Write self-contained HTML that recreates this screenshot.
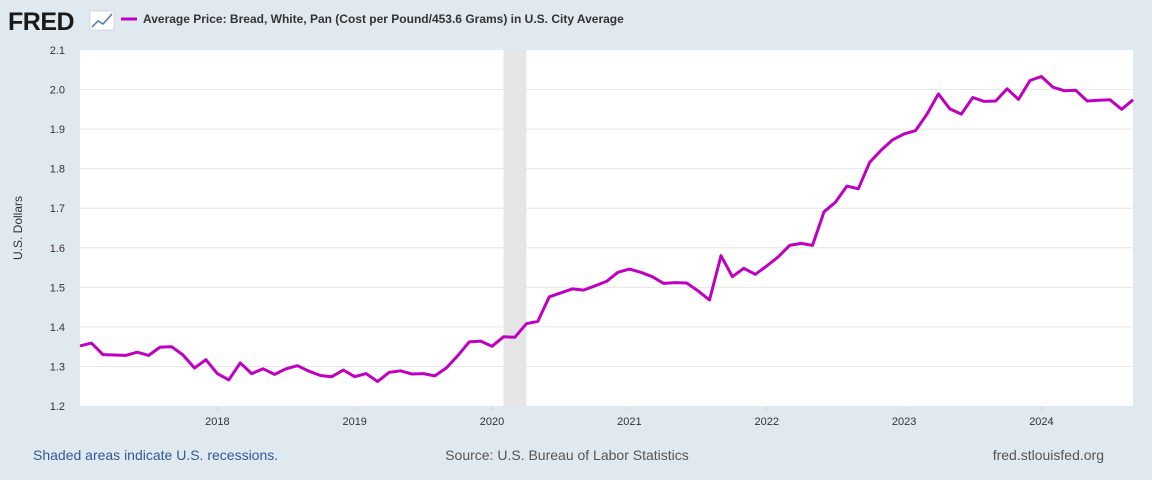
<!DOCTYPE html>
<html><head><meta charset="utf-8"><style>
body{margin:0;width:1152px;height:480px;background:#e1e9f0;font-family:"Liberation Sans",Arial,sans-serif;overflow:hidden}
svg{position:absolute;left:0;top:0}
</style></head><body>
<svg id="c" width="1152" height="480">
<g>
<text x="8" y="30" font-size="25" font-weight="bold" fill="#1a1a1a" letter-spacing="-0.5">FRED</text>
<rect x="90" y="11" width="24" height="19" fill="#fff" stroke="#bbb" stroke-width="0.5"/>
<polyline points="92,27 98,21 103,24 112,14" fill="none" stroke="#4a7ab8" stroke-width="1.5"/>
</g>
<line x1="121" y1="19" x2="137" y2="19" stroke="#c000c0" stroke-width="3"/>
<text x="143" y="23" font-size="12" font-weight="bold" fill="#333">Average Price: Bread, White, Pan (Cost per Pound/453.6 Grams) in U.S. City Average</text>
<rect x="80" y="50" width="1053" height="356" fill="#fff"/>
<g id="grid"></g>
<g id="rec"></g>
<g id="yt"></g><g id="xt"></g>
<path id="ln" fill="none" stroke="#c000c0" stroke-width="3" stroke-linejoin="round"/>
<text transform="translate(22,228) rotate(-90)" text-anchor="middle" font-size="12" fill="#333">U.S. Dollars</text>
<text x="33" y="460" font-size="14" fill="#2f5a97">Shaded areas indicate U.S. recessions.</text>
<text x="567" y="460" text-anchor="middle" font-size="14" fill="#555">Source: U.S. Bureau of Labor Statistics</text>
<text x="1104" y="460" text-anchor="end" font-size="14" fill="#555">fred.stlouisfed.org</text>
</svg>
<script>
const yTicks=[1.2,1.3,1.4,1.5,1.6,1.7,1.8,1.9,2.0,2.1];
const yTickLabels=["1.2","1.3","1.4","1.5","1.6","1.7","1.8","1.9","2.0","2.1"];
const xTickYears=[2018,2019,2020,2021,2022,2023,2024];
const startYear=2017;
const recessionStart=2020+1/12, recessionEnd=2020+3/12;
const prices=[
1.352,1.359,1.330,1.329,1.328,1.336,1.328,1.349,1.350,1.329,1.296,1.317,
1.282,1.266,1.309,1.282,1.294,1.280,1.294,1.302,1.288,1.277,1.274,1.291,
1.274,1.282,1.262,1.285,1.289,1.281,1.282,1.276,1.296,1.327,1.362,1.364,
1.351,1.375,1.374,1.408,1.414,1.476,1.486,1.496,1.493,1.504,1.515,1.538,
1.546,1.538,1.527,1.510,1.512,1.511,1.491,1.468,1.580,1.527,1.548,1.533,
1.554,1.577,1.606,1.611,1.606,1.691,1.715,1.756,1.749,1.816,1.847,1.873,
1.888,1.896,1.938,1.989,1.951,1.938,1.980,1.970,1.971,2.002,1.975,2.023,
2.033,2.006,1.997,1.998,1.971,1.973,1.974,1.950,1.974];
const NS="http://www.w3.org/2000/svg";
const X0=80,X1=1133,Y0=406,Y1=50;
const tMax=startYear+(prices.length-1)/12;
const xs=t=>X0+(t-startYear)/(tMax-startYear)*(X1-X0);
const ys=v=>Y0-(v-1.2)/(0.9)*(Y0-Y1);
function mk(tag,a,p){const e=document.createElementNS(NS,tag);for(const k in a)e.setAttribute(k,a[k]);p.appendChild(e);return e;}
const grid=document.getElementById('grid'),yt=document.getElementById('yt'),xt=document.getElementById('xt');
yTicks.forEach((v,i)=>{
 if(i>0&&i<yTicks.length-1){const g=mk('line',{x1:X0,x2:X1,y1:ys(v),y2:ys(v),stroke:'#e6e6e6','stroke-width':1},grid);
 
 }
 const t=mk('text',{x:65,y:ys(v)+4,'text-anchor':'end','font-size':11,fill:'#333'},yt);t.textContent=yTickLabels[i];
 
 
});
xTickYears.forEach(y=>{
 const x=xs(y);
 const l=mk('line',{x1:x,x2:x,y1:Y0,y2:Y0+5,stroke:'#ccd6eb'},xt);
 
 
 const t=mk('text',{x:x,y:425,'text-anchor':'middle','font-size':11,fill:'#333'},xt);t.textContent=y;
 
 
});
const r=mk('rect',{x:xs(recessionStart),y:Y1,width:xs(recessionEnd)-xs(recessionStart),height:Y0-Y1,fill:'#e5e5e5'},document.getElementById('rec'));


const ln=document.getElementById('ln');
ln.setAttribute('d',prices.map((v,i)=>(i?'L':'M')+xs(startYear+i/12).toFixed(1)+','+ys(v).toFixed(1)).join(''));


</script>
</body></html>
